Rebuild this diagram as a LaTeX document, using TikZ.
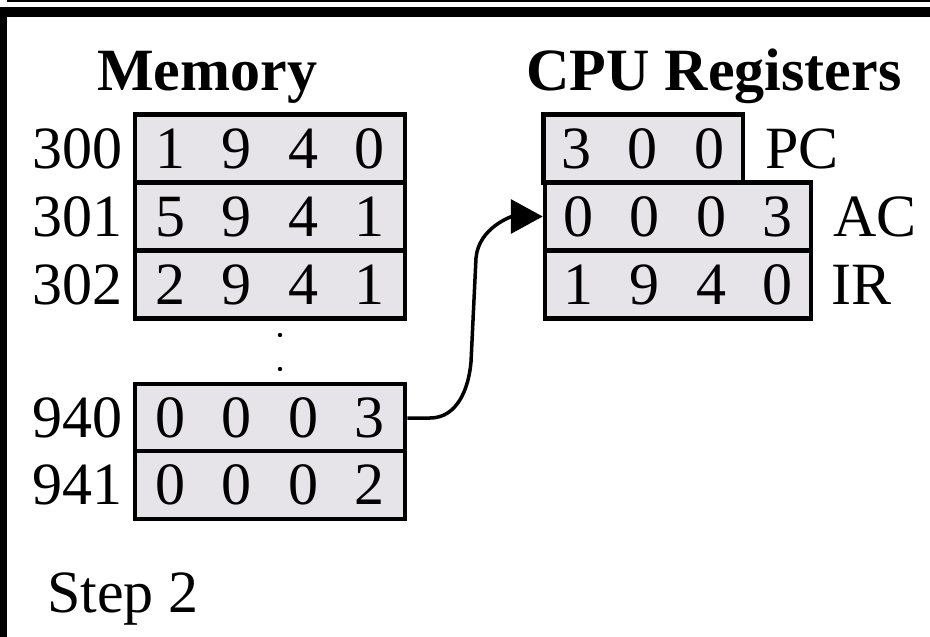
\documentclass[tikz,border=0pt]{standalone}
\usepackage{fontspec}
\setmainfont{Liberation Serif}
\usetikzlibrary{positioning,arrows.meta}
\definecolor{cellgray}{RGB}{230,228,232}
\newlength{\cellw}
\setlength{\cellw}{66.5pt}
\newcommand{\cell}[1]{\makebox[\cellw]{#1}}
\begin{document}
\begin{tikzpicture}[x=1pt,y=1pt,
    every node/.style={inner sep=0pt,font=\fontsize{60}{72}\selectfont},
    word/.style={draw,line width=4.5pt,fill=cellgray,minimum height=68pt},
    memword/.style={word,minimum width=270pt},
    regword/.style={word,minimum width=266pt},
    title/.style={font=\fontsize{60}{72}\selectfont\bfseries}]
  \useasboundingbox (0,0) rectangle (930,-637);
  % frame edges
  \fill (7,0) rectangle (930,-2);
  \fill (0,-7) rectangle (930,-17);
  \fill (0,-7) rectangle (7,-637);

  \node[title,anchor=base west] (memtitle) at (97,-90) {Memory};
  \node[title,anchor=base] (cputitle) at (714,-90) {CPU Registers};

  % memory
  \node[memword] (m300) at (270,-148.5) {\cell1\cell9\cell4\cell0};
  \node[memword] (m301) at (270,-216.5) {\cell5\cell9\cell4\cell1};
  \node[memword] (m302) at (270,-284.5) {\cell2\cell9\cell4\cell1};
  \node[memword] (m940) at (270,-418) {\cell0\cell0\cell0\cell3};
  \node[memword] (m941) at (270,-485) {\cell0\cell0\cell0\cell2};
  \node[left=10pt of m300] (a300) {300};
  \node[left=10pt of m301] (a301) {301};
  \node[left=10pt of m302] (a302) {302};
  \node[left=10pt of m940] (a940) {940};
  \node[left=10pt of m941] (a941) {941};
  \fill (280,-335) circle (2.2pt);
  \fill (280,-369) circle (2.2pt);

  % registers
  \node[word,minimum width=196pt] (pc) at (643,-148.5) {\cell3\cell0\cell0};
  \node[regword] (ac) at (678,-216.5) {\cell0\cell0\cell0\cell3};
  \node[regword] (ir) at (678,-284.5) {\cell1\cell9\cell4\cell0};
  \node[right=20pt of pc] (pclabel) {PC};
  \node[right=20pt of ac] (aclabel) {AC};
  \node[right=18pt of ir] (irlabel) {IR};

  \draw[line width=3.5pt,-{Triangle[length=32pt,width=34pt]}]
    (m940.east) -- (430,-418) to[out=0,in=-95] (471,-362)
    -- (476,-258) to[out=85,in=180] (ac.west);

  \node[anchor=base west] (step) at (47,-612) {Step 2};
\end{tikzpicture}
\end{document}
